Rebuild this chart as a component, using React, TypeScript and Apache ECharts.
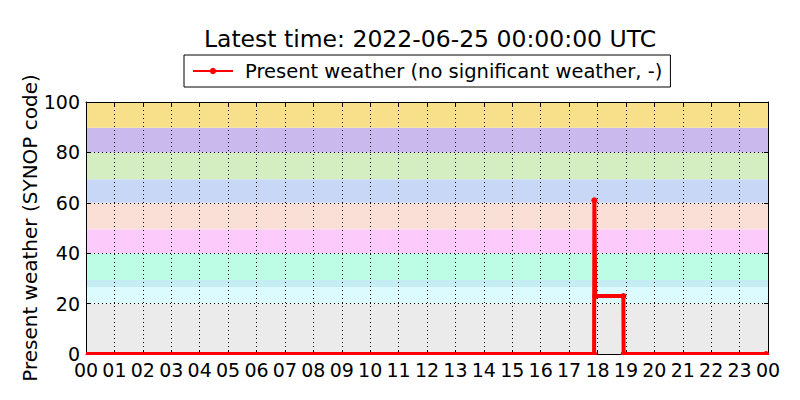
import React, { useEffect, useRef } from "react";
import * as echarts from "echarts";

const titleText = "Latest time: 2022-06-25 00:00:00 UTC";
const seriesName = "Present weather (no significant weather, -)";
const yAxisName = "Present weather (SYNOP code)";

// hours since 00 UTC and SYNOP code values
const times = [0, 17.88, 17.89, 17.92, 18.91, 18.92, 23.93];
const values = [0, 0, 61, 23, 23, 0, 0];

// background bands (SYNOP code ranges)
const bandLow = [0, 20, 26.6, 29.4, 40, 49.5, 60, 69.3, 80, 89.8];
const bandHigh = [20, 26.6, 29.4, 40, 49.5, 60, 69.3, 80, 89.8, 100];
const bandColors = [
  "#ebebeb",
  "#dbfbfe",
  "#c5ecf3",
  "#bdfde6",
  "#fccbfb",
  "#f9dfd5",
  "#c9d7f6",
  "#d4edc1",
  "#c9b9ed",
  "#f8df8a",
];

const FONT = "DejaVu Sans";
const X_MIN = 0;
const X_MAX = 24;

export default function App() {
  const ref = useRef<HTMLDivElement>(null);
  useEffect(() => {
    if (!ref.current) return;
    document.body.style.margin = "0";
    const chart = echarts.init(ref.current, undefined, { renderer: "svg" });
    const hourFmt = (v: number) => String(Math.round(v) % 24).padStart(2, "0");
    const gridLine = { show: true, lineStyle: { color: "#000", width: 1, type: [1, 3] as any } };
    const tick = { show: true, inside: true, length: 4, lineStyle: { color: "#000", width: 1 } };
    const axisLine = { show: true, onZero: false, lineStyle: { color: "#000", width: 1 } };
    const option: any = {
      animation: false,
      backgroundColor: "#fff",
      title: {
        text: titleText,
        left: 425,
        top: 22,
        textAlign: "center",
        textStyle: { fontFamily: FONT, fontSize: 23.5, fontWeight: "normal", color: "#000" },
      },
      legend: {
        data: [seriesName],
        left: 184,
        top: 55,
        padding: [6, 8, 6, 8],
        borderColor: "#000",
        borderWidth: 1,
        borderRadius: 0,
        itemWidth: 40,
        itemHeight: 8,
        textStyle: { fontFamily: FONT, fontSize: 19.5, color: "#000", padding: [0, 0, 0, 7] },
      },
      grid: { left: 86, right: 32, top: 102, bottom: 46 },
      xAxis: [
        {
          type: "value",
          min: X_MIN,
          max: X_MAX,
          interval: 1,
          axisLine,
          axisTick: tick,
          splitLine: gridLine,
          axisLabel: { formatter: hourFmt, fontFamily: FONT, fontSize: 19, color: "#000", margin: 6 },
        },
        {
          type: "value",
          position: "top",
          min: X_MIN,
          max: X_MAX,
          interval: 1,
          axisLine,
          axisTick: tick,
          splitLine: { show: false },
          axisLabel: { show: false },
        },
      ],
      yAxis: [
        {
          type: "value",
          min: 0,
          max: 100,
          interval: 20,
          axisLine,
          axisTick: tick,
          splitLine: gridLine,
          axisLabel: { fontFamily: FONT, fontSize: 19, color: "#000", margin: 6 },
        },
        {
          type: "value",
          position: "right",
          min: 0,
          max: 100,
          interval: 20,
          axisLine,
          axisTick: tick,
          splitLine: { show: false },
          axisLabel: { show: false },
        },
      ],
      graphic: [
        {
          type: "text",
          x: 30,
          y: 228,
          rotation: Math.PI / 2,
          style: {
            text: yAxisName,
            fontFamily: FONT,
            fontSize: 20,
            fill: "#000",
            align: "center",
            verticalAlign: "middle",
          },
        },
      ],
      series: [
        {
          type: "custom",
          name: "bands",
          silent: true,
          z: -5,
          xAxisIndex: 0,
          yAxisIndex: 0,
          data: bandLow.map((lo, i) => [lo, bandHigh[i]]),
          renderItem: (params: any, api: any) => {
            const lo = api.value(0);
            const hi = api.value(1);
            const p1 = api.coord([X_MIN, hi]);
            const p2 = api.coord([X_MAX, lo]);
            return {
              type: "rect",
              shape: { x: p1[0], y: p1[1], width: p2[0] - p1[0], height: p2[1] - p1[1] },
              style: { fill: bandColors[params.dataIndex] },
            };
          },
        },
        {
          type: "line",
          name: seriesName,
          xAxisIndex: 0,
          yAxisIndex: 0,
          data: times.map((t, i) => [t, values[i]]),
          symbol: "circle",
          symbolSize: (_v: any, p: any) => (p.dataIndex === 0 ? 0 : 6),
          showSymbol: true,
          lineStyle: { color: "#ff0000", width: 4 },
          itemStyle: { color: "#ff0000" },
          clip: true,
          z: 5,
        },
      ],
    };
    chart.setOption(option);
    // mask the half of the line that falls below the x-axis (matplotlib clips at the axes)
    const yBase = chart.convertToPixel({ yAxisIndex: 0 }, 0) as number;
    const xL = chart.convertToPixel({ xAxisIndex: 0 }, X_MIN) as number;
    const xR = chart.convertToPixel({ xAxisIndex: 0 }, X_MAX) as number;
    chart.setOption({
      graphic: [
        {},
        {
          type: "rect",
          silent: true,
          z: 100,
          shape: { x: xL - 6, y: yBase + 1, width: xR - xL + 12, height: 4 },
          style: { fill: "#fff" },
        },
      ],
    });
    return () => chart.dispose();
  }, []);
  return <div ref={ref} style={{ width: 800, height: 400 }} />;
}
